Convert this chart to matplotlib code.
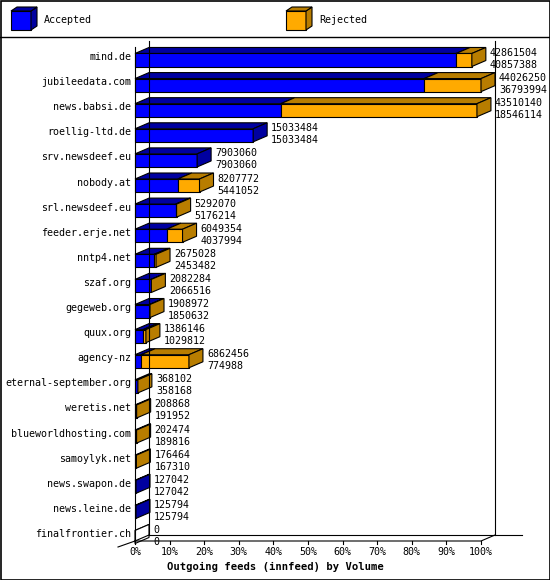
import matplotlib
matplotlib.use("Agg")
import matplotlib.pyplot as plt
from matplotlib.patches import Polygon, Rectangle
import numpy as np

hosts = ["mind.de", "jubileedata.com", "news.babsi.de", "roellig-ltd.de", "srv.newsdeef.eu",
         "nobody.at", "srl.newsdeef.eu", "feeder.erje.net", "nntp4.net", "szaf.org",
         "gegeweb.org", "quux.org", "agency-nz", "eternal-september.org", "weretis.net",
         "blueworldhosting.com", "samoylyk.net", "news.swapon.de", "news.leine.de", "finalfrontier.ch"]
offered = [42861504, 44026250, 43510140, 15033484, 7903060, 8207772, 5292070, 6049354, 2675028, 2082284,
           1908972, 1386146, 6862456, 368102, 208868, 202474, 176464, 127042, 125794, 0]
accepted = [40857388, 36793994, 18546114, 15033484, 7903060, 5441052, 5176214, 4037994, 2453482, 2066516,
            1850632, 1029812, 774988, 358168, 191952, 189816, 167310, 127042, 125794, 0]
xticks = [0, 10, 20, 30, 40, 50, 60, 70, 80, 90, 100]

W, H = 550, 580
fig = plt.figure(figsize=(5.5, 5.8), dpi=100)
FONT = "DejaVu Sans Mono"
DX, DY = 14, 6  # depth in pixels

# overlay axes in pixel coordinates for decorations
ov = fig.add_axes([0, 0, 1, 1])
ov.set_xlim(0, W); ov.set_ylim(H, 0); ov.axis("off")

def fx(p): return p / W
def fy(p): return 1 - p / H

x0p, x1p, ytop, ybot = 135, 481, 47, 541
ax = fig.add_axes([fx(x0p), fy(ybot), (x1p - x0p) / W, (ybot - ytop) / H])
ax.set_xlim(0, 100)
ax.set_ylim(19.16, -0.518)
ax.axis("off")
ax.patch.set_alpha(0)

maxv = max(offered)
blue, blue_d = "#0000ff", "#0000a0"
orng, orng_d = "#ffaa00", "#b87d00"
lw = 0.8

def to_px(x, y):
    d = ax.transData.transform((x, y))
    return ov.transData.inverted().transform(d)

def box(xa, xb, yc, front, dark, side=True):
    (pa, pt), = [to_px(xa, yc - 0.26)]
    pb, pbot = to_px(xb, yc + 0.26)
    pa_x, pt_y = pa, pt
    ov.add_patch(Polygon([(pa_x, pt_y), (pb, pt_y), (pb + DX, pt_y - DY), (pa_x + DX, pt_y - DY)],
                         closed=True, fc=dark, ec="black", lw=lw))
    ov.add_patch(Polygon([(pa_x, pt_y), (pb, pt_y), (pb, pbot), (pa_x, pbot)],
                         closed=True, fc=front, ec="black", lw=lw))
    if side:
        ov.add_patch(Polygon([(pb, pt_y), (pb + DX, pt_y - DY), (pb + DX, pbot - DY), (pb, pbot)],
                             closed=True, fc=dark, ec="black", lw=lw))

# frame lines (back plane)
bx0, _ = to_px(0, 0); bx1, _ = to_px(100, 0)
ov.plot([bx0 + DX] * 2, [ytop - DY, ybot - DY], color="black", lw=lw)
ov.plot([bx1 + DX] * 2, [ytop - DY, ybot - DY], color="black", lw=lw)
ov.plot([bx0 + DX, 522], [ybot - DY] * 2, color="black", lw=lw)
ov.plot([bx0, bx0], [ytop, ybot], color="black", lw=lw)
ov.plot([118, bx0], [ybot + 6, ybot], color="black", lw=lw)
ov.plot([bx0, bx1, bx1 + DX], [ybot, ybot, ybot - DY], color="black", lw=lw)
ov.plot([bx0, bx0 + DX], [ybot, ybot - DY], color="black", lw=lw)

for i, (h, o, a) in enumerate(zip(hosts, offered, accepted)):
    pa = a / maxv * 100
    po = o / maxv * 100
    if o == 0:
        box(0, 0, i, "white", "white")
    elif po - pa > 0:
        box(0, pa, i, blue, blue_d, side=False)
        box(pa, po, i, orng, orng_d)
    else:
        box(0, pa, i, blue, blue_d)
    ex, ey = to_px(po, i)
    ov.text(ex + DX + 4, ey - 7, str(o), fontsize=7.2, family=FONT, va="center", ha="left")
    ov.text(ex + DX + 4, ey + 5, str(a), fontsize=7.2, family=FONT, va="center", ha="left")
    ov.text(131, ey - 3, h, fontsize=7.2, family=FONT, va="center", ha="right")

for t in xticks:
    tx, _ = to_px(t, 0)
    ov.plot([tx, tx], [ybot, ybot + 3], color="black", lw=lw)
    ov.text(tx, ybot + 11, f"{t}%", fontsize=7.2, family=FONT, ha="center", va="center")
ov.text(134 + 33, 567, "Outgoing feeds (innfeed) by Volume", fontsize=7.6, family=FONT,
        fontweight="bold", ha="left", va="center")

# legend
ov.plot([0, W], [37, 37], color="black", lw=1)
for lx, c, cd, lab in [(11, blue, blue_d, "Accepted"), (286, orng, orng_d, "Rejected")]:
    ov.add_patch(Polygon([(lx, 11), (lx + 20, 11), (lx + 20, 30), (lx, 30)], fc=c, ec="black", lw=lw))
    ov.add_patch(Polygon([(lx + 20, 11), (lx + 26, 7), (lx + 26, 26), (lx + 20, 30)], fc=cd, ec="black", lw=lw))
    ov.add_patch(Polygon([(lx, 11), (lx + 6, 7), (lx + 26, 7), (lx + 20, 11)], fc=cd, ec="black", lw=lw))
    ov.text(lx + 33, 20, lab, fontsize=7.2, family=FONT, va="center", ha="left")
ov.add_patch(Rectangle((0.5, 0.5), W - 1, H - 1, fill=False, ec="black", lw=1.2))

fig.savefig("out.png", dpi=100)
